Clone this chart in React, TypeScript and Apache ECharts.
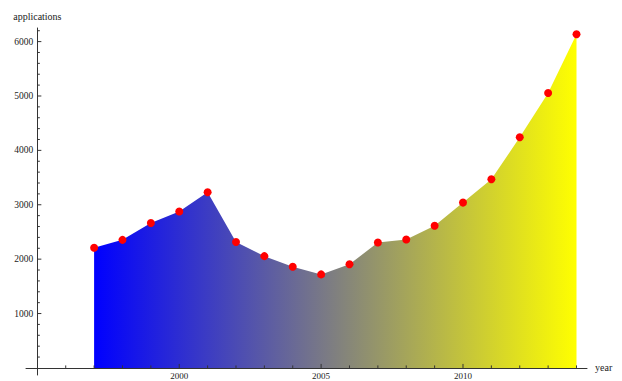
import React, { useEffect, useRef } from "react";
import * as echarts from "echarts";

const years = [1997, 1998, 1999, 2000, 2001, 2002, 2003, 2004, 2005, 2006, 2007, 2008, 2009, 2010, 2011, 2012, 2013, 2014];
const applications = [2210, 2355, 2665, 2875, 3230, 2315, 2055, 1860, 1720, 1905, 2305, 2360, 2615, 3040, 3470, 4240, 5055, 6135];

const xMajorTicks = [2000, 2005, 2010];
const xMinorTicks = [1996, 1997, 1998, 1999, 2001, 2002, 2003, 2004, 2006, 2007, 2008, 2009, 2011, 2012, 2013, 2014];
const yMajorTicks = [1000, 2000, 3000, 4000, 5000, 6000];
const yMinorTicks = [200, 400, 600, 800, 1200, 1400, 1600, 1800, 2200, 2400, 2600, 2800, 3200, 3400, 3600, 3800, 4200, 4400, 4600, 4800, 5200, 5400, 5600, 5800, 6200];

const X_ORIGIN = 1995;
const XMIN = 1994.6;
const XMAX = 2014.37;
const YMIN = -130;
const YMAX = 6250;

const W = 622;
const H = 381;
const GRID_LEFT = 26;
const GRID_RIGHT = 35;
const GRID_TOP = 28;
const GRID_BOTTOM = 6;

const FONT = "'Liberation Serif', 'DejaVu Serif', serif";
const AXIS_COLOR = "#333";
const LABEL_COLOR = "#222";

export default function App() {
  const ref = useRef<HTMLDivElement>(null);
  useEffect(() => {
    if (!ref.current) return;
    const chart = echarts.init(ref.current, undefined, { renderer: "svg" });
    const gridWidth = W - GRID_LEFT - GRID_RIGHT;
    const yOffset = -((X_ORIGIN - XMIN) / (XMAX - XMIN)) * gridWidth;

    // tick data: [x, y, kind] kind 0 = x minor, 1 = x major, 2 = y minor, 3 = y major, 4 = x label
    const tickData: number[][] = [];
    xMinorTicks.forEach((v) => tickData.push([v, 0, 0]));
    xMajorTicks.forEach((v) => tickData.push([v, 0, 1]));
    yMinorTicks.forEach((v) => tickData.push([X_ORIGIN, v, 2]));
    yMajorTicks.forEach((v) => tickData.push([X_ORIGIN, v, 3]));
    xMajorTicks.forEach((v) => tickData.push([v, 0, 4]));

    chart.setOption({
      animation: false,
      grid: {
        left: GRID_LEFT,
        right: GRID_RIGHT,
        top: GRID_TOP,
        bottom: GRID_BOTTOM,
        containLabel: false,
        outerBoundsMode: "none",
      },
      xAxis: {
        type: "value",
        min: XMIN,
        max: XMAX,
        z: 3,
        name: "year",
        nameLocation: "end",
        nameGap: 8,
        nameTextStyle: { fontFamily: FONT, fontSize: 10, color: LABEL_COLOR },
        axisLine: { show: true, onZero: true, lineStyle: { color: AXIS_COLOR, width: 1 } },
        axisTick: { show: false },
        splitLine: { show: false },
        axisLabel: { show: false },
      },
      yAxis: {
        type: "value",
        min: YMIN,
        max: YMAX,
        z: 3,
        offset: yOffset,
        name: "applications",
        nameLocation: "end",
        nameGap: 7,
        nameTextStyle: { fontFamily: FONT, fontSize: 10, color: LABEL_COLOR, align: "center" },
        axisLine: { show: true, onZero: false, lineStyle: { color: AXIS_COLOR, width: 1 } },
        axisTick: { show: false },
        splitLine: { show: false },
        axisLabel: {
          customValues: yMajorTicks,
          formatter: (v: number) => String(v),
          fontFamily: FONT,
          fontSize: 9.5,
          color: LABEL_COLOR,
          margin: 4,
        },
      },
      series: [
        {
          type: "line",
          data: years.map((y, i) => [y, applications[i]]),
          z: 2,
          symbol: "circle",
          symbolSize: 8,
          itemStyle: { color: "#ff0000" },
          lineStyle: { width: 0, opacity: 0 },
          areaStyle: {
            opacity: 1,
            color: new echarts.graphic.LinearGradient(0, 0, 1, 0, [
              { offset: 0, color: "#0000ff" },
              { offset: 1, color: "#ffff00" },
            ]),
          },
        },
        {
          type: "custom",
          z: 4,
          clip: false,
          silent: true,
          encode: { x: 0, y: 1 },
          data: tickData,
          renderItem: (params: any, api: any) => {
            const v = api.value(0);
            const p = api.coord([v, api.value(1)]);
            const kind = api.value(2);
            if (kind === 4) {
              return {
                type: "text",
                x: p[0],
                y: p[1] + 4,
                style: {
                  text: String(v),
                  fontFamily: FONT,
                  fontSize: 9,
                  fill: LABEL_COLOR,
                  align: "center",
                  verticalAlign: "top",
                },
              };
            }
            let x2 = p[0];
            let y2 = p[1];
            if (kind === 0) y2 = p[1] - 2.5;
            else if (kind === 1) y2 = p[1] - 4;
            else if (kind === 2) x2 = p[0] + 2.5;
            else x2 = p[0] + 4;
            return {
              type: "line",
              shape: { x1: p[0], y1: p[1], x2, y2 },
              style: { stroke: AXIS_COLOR, lineWidth: 1 },
            };
          },
        },
      ],
    });
    return () => chart.dispose();
  }, []);
  return (
    <div
      ref={ref}
      style={{ position: "fixed", left: 0, top: 0, width: W, height: H, background: "#fff" }}
    />
  );
}
